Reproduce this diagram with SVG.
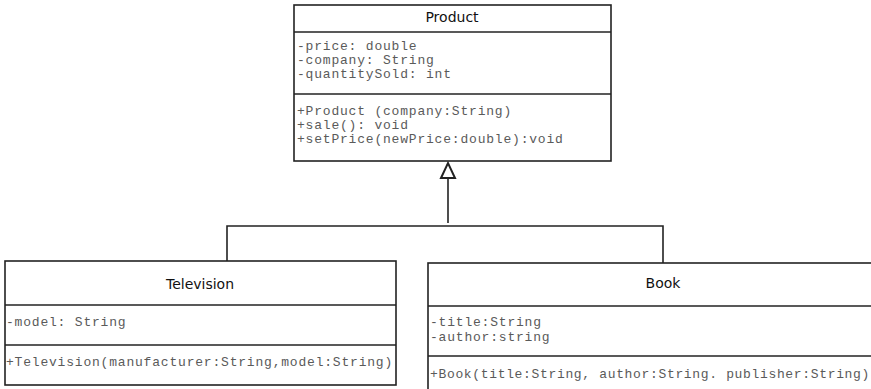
<svg xmlns="http://www.w3.org/2000/svg" width="871" height="389" viewBox="0 0 871 389">
<style>
.box{fill:#fff;stroke:#222;stroke-width:1.6}
.div{stroke:#222;stroke-width:1.4}
.title{font-family:"DejaVu Sans","Liberation Sans",sans-serif;font-size:14px;fill:#111;text-anchor:middle}
.mem{font-family:"Liberation Mono","DejaVu Sans Mono",monospace;font-size:13px;letter-spacing:0.8px;fill:#5a5a5a}
.conn{fill:none;stroke:#222;stroke-width:1.6}
.head{fill:#fff;stroke:#222;stroke-width:2}
</style>
<g id="connectors">
<path class="conn" d="M448,223 L448,178"/>
<path class="head" d="M441,178 L448,163 L455,178 Z"/>
<path class="conn" d="M227,261 L227,226 L663,226 L663,263"/>
</g>
<g id="product">
<rect class="box" x="294" y="5" width="317" height="156"/>
<line class="div" x1="294" y1="32" x2="611" y2="32"/>
<line class="div" x1="294" y1="94" x2="611" y2="94"/>
<text class="title" x="452" y="22">Product</text>
<text class="mem" x="297" y="50">-price: double</text>
<text class="mem" x="297" y="64">-company: String</text>
<text class="mem" x="297" y="78">-quantitySold: int</text>
<text class="mem" x="297" y="115">+Product (company:String)</text>
<text class="mem" x="297" y="129">+sale(): void</text>
<text class="mem" x="297" y="143">+setPrice(newPrice:double):void</text>
</g>
<g id="television">
<rect class="box" x="5" y="261" width="391" height="124"/>
<line class="div" x1="5" y1="305" x2="396" y2="305"/>
<line class="div" x1="5" y1="345" x2="396" y2="345"/>
<text class="title" x="200" y="289">Television</text>
<text class="mem" x="6" y="326">-model: String</text>
<text class="mem" x="6" y="366">+Television(manufacturer:String,model:String)</text>
</g>
<g id="book">
<rect class="box" x="428" y="263" width="460" height="140"/>
<line class="div" x1="428" y1="306" x2="888" y2="306"/>
<line class="div" x1="428" y1="356" x2="888" y2="356"/>
<text class="title" x="663" y="288">Book</text>
<text class="mem" x="430" y="326">-title:String</text>
<text class="mem" x="430" y="341">-author:string</text>
<text class="mem" x="430" y="378" style="letter-spacing:0.66px">+Book(title:String, author:String. publisher:String)</text>
</g>
</svg>
